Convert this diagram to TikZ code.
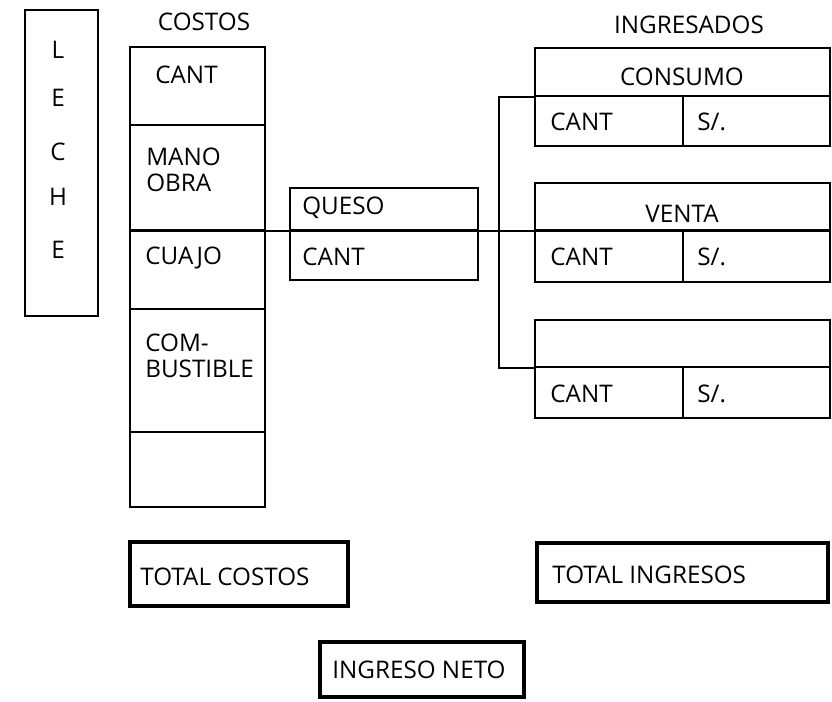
\documentclass[tikz,border=0pt]{standalone}
\usepackage{fontspec}
\setmainfont{Open Sans}
\usetikzlibrary{fit}
\tikzset{
  cell/.style = {rectangle, draw, line width=1.1pt, inner sep=0pt},
  tot/.style  = {rectangle, draw, line width=1.8pt, inner sep=0pt},
  txt/.style  = {font=\fontsize{13.8}{15}\selectfont, inner sep=0pt, align=left},
  lnk/.style  = {line width=1.1pt},
}

\begin{document}
\begin{tikzpicture}[x=0.02cm,y=-0.02cm]
\useasboundingbox (0,0) rectangle (832,702);
% ---- leche ----------------------------------------------------------
\node[cell, fit={(25,10) (98,316)}] (leche) {};
\foreach \ltr/\y [count=\i] in {L/50, E/98, C/152, H/197, E/250}
  \node[txt] (lch\i) at (58,\y) {\ltr};

% ---- costos ---------------------------------------------------------
\node[txt] (costos) at (204,22) {COSTOS};
\node[cell, fit={(130,47) (265,125)}]  (cCant) {};
\node[cell, fit={(130,125) (265,230)}] (cMano) {};
\node[cell, fit={(130,230) (265,309)}] (cCuajo) {};
\node[cell, fit={(130,309) (265,432)}] (cComb) {};
\node[cell, fit={(130,432) (265,507)}] (cVacio) {};
\node[txt, anchor=west] (tCant)  at (155,75)  {CANT};
\node[txt, anchor=west] (tMano)  at (146,170) {MANO\\OBRA};
\node[txt, anchor=west] (tCuajo) at (145,258) {CUAJO};
\node[txt, anchor=west] (tComb)  at (145,356) {COM-\\BUSTIBLE};

% ---- queso ----------------------------------------------------------
\node[cell, fit={(290,188) (478,230)}] (qTop) {};
\node[cell, fit={(290,230) (478,280)}] (qBot) {};
\node[txt, anchor=west] (tQueso) at (302,208) {QUESO};
\node[txt, anchor=west] (tQCant) at (302,257) {CANT};

% ---- ingresados -----------------------------------------------------
\node[txt] (ingres) at (689,25) {INGRESADOS};
\foreach \n/\t/\m/\b in {cns/48/96/146, vta/183/230/282, otr/320/367/418} {
  \node[cell, fit={(535,\t) (830,\m)}] (\n-top) {};
  \node[cell, fit={(535,\m) (683,\b)}] (\n-cant) {};
  \node[cell, fit={(683,\m) (830,\b)}] (\n-sol) {};
  \node[txt, anchor=west] (\n-tc) at (550,{(\m+\b)/2+1}) {CANT};
  \node[txt, anchor=west] (\n-ts) at (697,{(\m+\b)/2+1}) {S/.};
}
\node[txt] (tConsumo) at (682,77)  {CONSUMO};
\node[txt] (tVenta)   at (682,214) {VENTA};

% ---- links ----------------------------------------------------------
\draw[lnk] (cMano.south west) -- (vta-top.south east);
\draw[lnk] (cns-top.south west) -- ++(-35,0) |- (otr-top.south west);

% ---- totales --------------------------------------------------------
\node[tot, fit={(130,542) (348,606)}] (totC) {};
\node[txt, anchor=west] (tTotC) at (140,577) {TOTAL COSTOS};
\node[tot, fit={(537,543) (828,602)}] (totI) {};
\node[txt, anchor=west] (tTotI) at (552,575) {TOTAL INGRESOS};
\node[tot, fit={(320,642) (524,697)}] (neto) {};
\node[txt, anchor=west] (tNeto) at (332,670) {INGRESO NETO};
\end{tikzpicture}
\end{document}
